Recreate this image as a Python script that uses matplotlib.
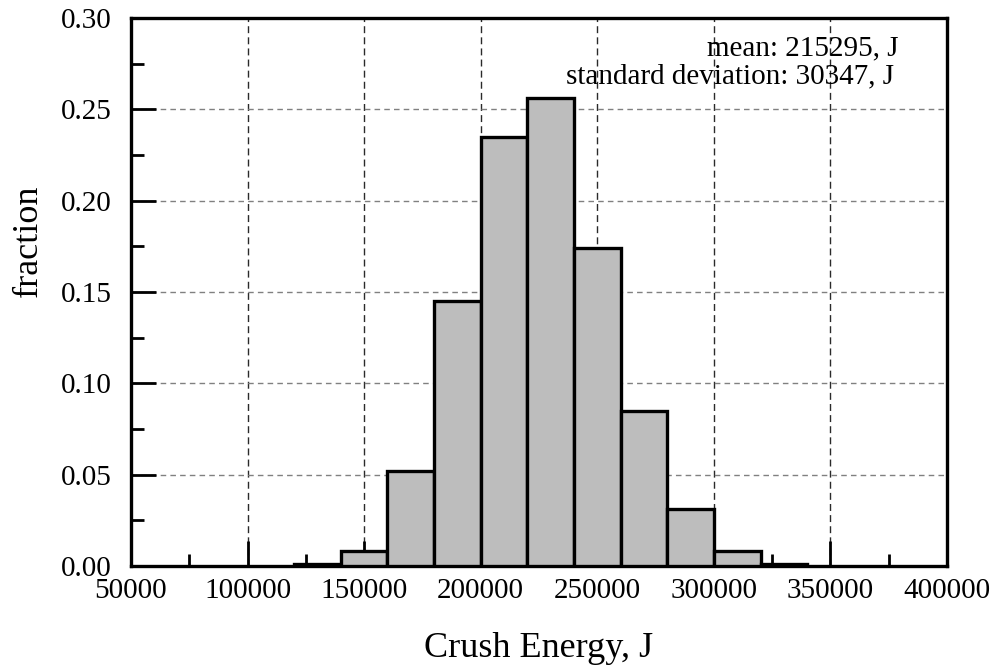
import matplotlib
matplotlib.use("Agg")
import matplotlib.pyplot as plt
from matplotlib.ticker import MultipleLocator

bin_left = [120000, 140000, 160000, 180000, 200000, 220000, 240000, 260000, 280000, 300000, 320000]
fraction = [0.001, 0.008, 0.052, 0.145, 0.235, 0.256, 0.174, 0.085, 0.031, 0.008, 0.001]
bin_width = 20000
x_ticks = [50000, 100000, 150000, 200000, 250000, 300000, 350000, 400000]
y_ticks = [0.00, 0.05, 0.10, 0.15, 0.20, 0.25, 0.30]
mean_text = "mean: 215295, J"
std_text = "standard deviation: 30347, J"

plt.rcParams['font.family'] = ['Liberation Serif', 'DejaVu Serif']

fig = plt.figure(figsize=(9.99, 6.69), dpi=100)
ax = fig.add_axes([0.1311, 0.154, 0.948 - 0.1311, 0.973 - 0.154])

ax.bar(bin_left, fraction, width=bin_width, align='edge',
       color='#bdbdbd', edgecolor='black', linewidth=2.4, zorder=3)

ax.set_xlim(50000, 400000)
ax.set_ylim(0, 0.30)
ax.set_xticks(x_ticks)
ax.set_yticks(y_ticks)
ax.set_xticklabels([str(v) for v in x_ticks])
ax.set_yticklabels([f"{v:.2f}" for v in y_ticks])
ax.xaxis.set_minor_locator(MultipleLocator(25000))
ax.yaxis.set_minor_locator(MultipleLocator(0.025))

ax.tick_params(axis='both', which='major', direction='in', length=18, width=2,
               labelsize=21)
ax.tick_params(axis='both', which='minor', direction='in', length=9, width=2)
ax.tick_params(axis='y', which='major', pad=14)
ax.tick_params(axis='x', which='major', pad=9)

for s in ax.spines.values():
    s.set_linewidth(2.4)
    s.set_color('black')

ax.grid(True, axis='x', which='major', linestyle=(0, (5, 3)), color='#2a2a2a', linewidth=1.0, zorder=1)
ax.grid(True, axis='y', which='major', linestyle=(0, (4, 3)), color='#808080', linewidth=1.0, zorder=1)
ax.set_axisbelow(True)

ax.set_xlabel("Crush Energy, J", fontsize=26, labelpad=20)
ax.set_ylabel("fraction", fontsize=26)
ax.yaxis.set_label_coords(-0.105, 0.593)

ax.text(0.94, 0.945, mean_text, transform=ax.transAxes, ha='right', va='center', fontsize=21, zorder=5)
ax.text(0.935, 0.894, std_text, transform=ax.transAxes, ha='right', va='center', fontsize=21, zorder=5)

fig.savefig("out.png", dpi=100)
